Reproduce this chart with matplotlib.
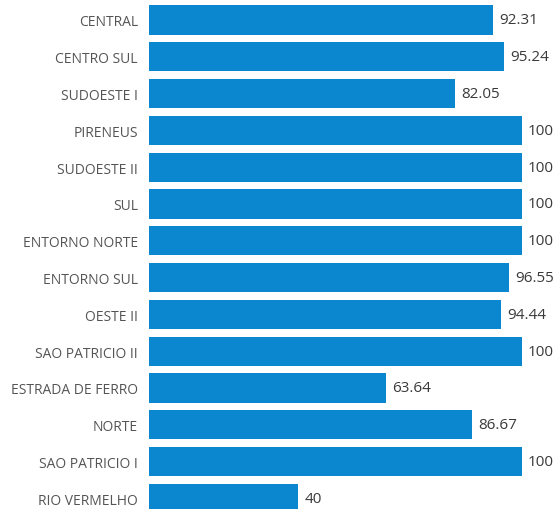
import matplotlib.pyplot as plt

categories = ["CENTRAL", "CENTRO SUL", "SUDOESTE I", "PIRENEUS", "SUDOESTE II", "SUL",
              "ENTORNO NORTE", "ENTORNO SUL", "OESTE II", "SAO PATRICIO II",
              "ESTRADA DE FERRO", "NORTE", "SAO PATRICIO I", "RIO VERMELHO"]
values = [92.31, 95.24, 82.05, 100, 100, 100, 100, 96.55, 94.44, 100, 63.64, 86.67, 100, 40]
value_labels = ["92.31", "95.24", "82.05", "100", "100", "100", "100", "96.55", "94.44",
                "100", "63.64", "86.67", "100", "40"]

plt.rcParams['font.family'] = ['Open Sans', 'DejaVu Sans']

fig = plt.figure(figsize=(5.6, 5.1), dpi=100)
# axes placed so that 0..100 spans pixels 149..522
ax = fig.add_axes([149 / 560, 0, 373 / 560, 1])

ypos = list(range(len(categories)))
ax.barh(ypos, values, height=0.79, color="#0A87CF", edgecolor="none")

ax.set_xlim(0, 100)
# first row centred at 21px, rows 36.8px apart
ax.set_ylim((510 - 21) / 36.8, -21 / 36.8)

ax.set_yticks(ypos)
ax.set_yticklabels(categories, fontsize=10, color="#555555")
ax.tick_params(axis="y", length=0, pad=8)
ax.set_xticks([])
for s in ax.spines.values():
    s.set_visible(False)

for y, v, lab in zip(ypos, values, value_labels):
    ax.text(v + 1.6, y, lab, va="center", ha="left", fontsize=11, color="#3a3a3a", clip_on=False)

fig.savefig("out.png", dpi=100)
